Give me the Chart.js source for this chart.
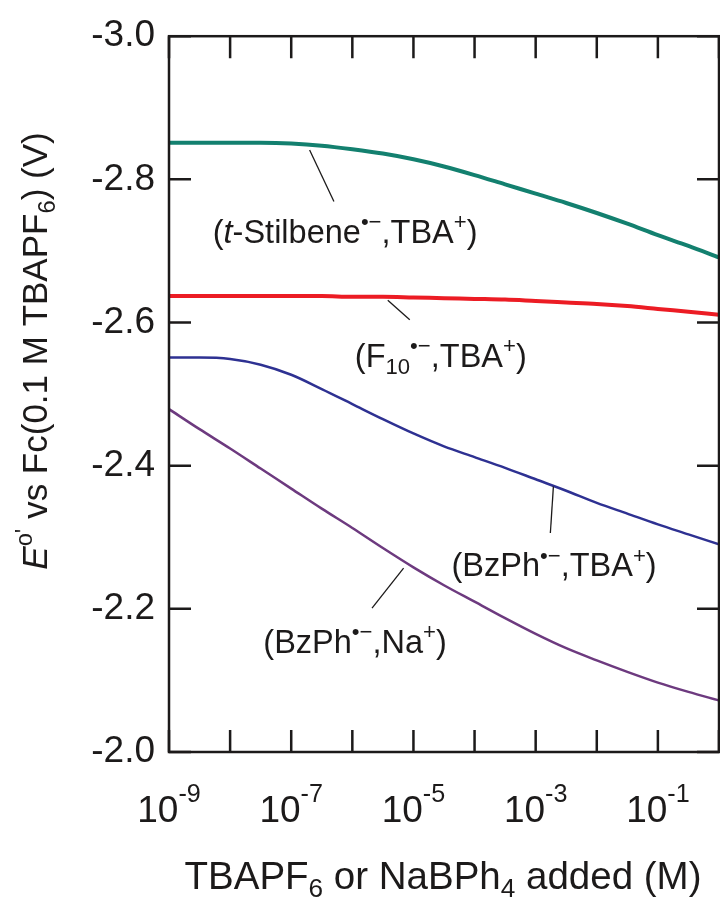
<!DOCTYPE html>
<html>
<head>
<meta charset="utf-8">
<script src="https://cdn.jsdelivr.net/npm/chart.js@4.4.0/dist/chart.umd.min.js"></script>
<style>
  body { margin: 0; background: #fff; }
</style>
</head>
<body>
<canvas id="chart" width="720" height="900"></canvas>
<script>
// added salt concentration (M), half-decade steps
var concentrations = [1e-9, 3.16e-9, 1e-8, 3.16e-8, 1e-7, 3.16e-7, 1e-6, 3.16e-6, 1e-5, 3.16e-5,
                      1e-4, 3.16e-4, 1e-3, 3.16e-3, 1e-2, 3.16e-2, 0.1, 0.316, 1];

// E°' vs Fc (V)
var stilbeneTBA = [-2.851, -2.851, -2.851, -2.851, -2.850, -2.847, -2.842, -2.836, -2.828, -2.818,
                   -2.806, -2.793, -2.780, -2.767, -2.753, -2.738, -2.722, -2.707, -2.691];
var f10TBA      = [-2.637, -2.637, -2.637, -2.637, -2.637, -2.637, -2.636, -2.636, -2.635, -2.634,
                   -2.633, -2.632, -2.630, -2.628, -2.626, -2.623, -2.619, -2.615, -2.611];
var bzphTBA     = [-2.551, -2.551, -2.549, -2.541, -2.527, -2.507, -2.486, -2.465, -2.445, -2.427,
                   -2.412, -2.397, -2.381, -2.365, -2.348, -2.333, -2.318, -2.304, -2.290];
var bzphNa      = [-2.479, -2.451, -2.424, -2.396, -2.368, -2.340, -2.313, -2.285, -2.258, -2.233,
                   -2.210, -2.187, -2.165, -2.145, -2.128, -2.112, -2.097, -2.084, -2.072];

var xTickExponents = [-9, -8, -7, -6, -5, -4, -3, -2, -1, 0];
var xLabelExponents = [-9, -7, -5, -3, -1];
var yTickValues = [-3.0, -2.8, -2.6, -2.4, -2.2, -2.0];

var FONT = "'Liberation Sans', Arial, sans-serif";
var INK = '#1c1a1a';

// label text pieces: [text, style] where style is '', 'i', 'sup' or 'sub'
var annotations = [
  { runs: [['(', ''], ['t', 'i'], ['-Stilbene', ''], ['\u2022\u2212', 'sup'], [',TBA', ''], ['+', 'sup'], [')', '']],
    at: [5.2e-9, -2.728], line: [[2.0e-7, -2.841], [5.0e-7, -2.769]] },
  { runs: [['(F', ''], ['10', 'sub'], ['\u2022\u2212', 'sup'], [',TBA', ''], ['+', 'sup'], [')', '']],
    at: [1.1e-6, -2.555], line: [[3.8e-6, -2.631], [8.7e-6, -2.604]] },
  { runs: [['(BzPh', ''], ['\u2022\u2212', 'sup'], [',TBA', ''], ['+', 'sup'], [')', '']],
    at: [4.2e-5, -2.262], line: [[1.95e-3, -2.371], [1.74e-3, -2.306]] },
  { runs: [['(BzPh', ''], ['\u2022\u2212', 'sup'], [',Na', ''], ['+', 'sup'], [')', '']],
    at: [3.5e-8, -2.155], line: [[6.9e-6, -2.257], [2.1e-6, -2.201]] }
];

function fontFor(style, size) {
  var s = (style === 'sup' || style === 'sub') ? size * 0.68 : size;
  return (style === 'i' ? 'italic ' : '') + s + 'px ' + FONT;
}

function runsWidth(ctx, runs, size) {
  var w = 0;
  runs.forEach(function (r) {
    ctx.font = fontFor(r[1], size);
    w += ctx.measureText(r[0]).width;
  });
  return w;
}

// x,y: left end of baseline
function drawRuns(ctx, runs, x, y, size, rise) {
  rise = rise || 0.42;
  ctx.textAlign = 'left';
  ctx.textBaseline = 'alphabetic';
  runs.forEach(function (r) {
    ctx.font = fontFor(r[1], size);
    var dy = r[1] === 'sup' ? -size * rise : (r[1] === 'sub' ? size * 0.22 : 0);
    ctx.fillText(r[0], x, y + dy);
    x += ctx.measureText(r[0]).width;
  });
}

function points(series) {
  return concentrations.map(function (c, i) { return { x: c, y: series[i] }; });
}

var decorations = {
  id: 'decorations',
  afterDraw: function (chart) {
    var ctx = chart.ctx;
    var a = chart.chartArea;
    var xs = chart.scales.x, ys = chart.scales.y;
    var tick = 22;
    ctx.save();
    ctx.strokeStyle = INK;
    ctx.fillStyle = INK;

    // inward ticks on all four sides
    ctx.lineWidth = 2.5;
    ctx.beginPath();
    xTickExponents.forEach(function (e) {
      var px = xs.getPixelForValue(Math.pow(10, e));
      ctx.moveTo(px, a.bottom); ctx.lineTo(px, a.bottom - tick);
      ctx.moveTo(px, a.top); ctx.lineTo(px, a.top + tick);
    });
    yTickValues.forEach(function (v) {
      var py = ys.getPixelForValue(v);
      ctx.moveTo(a.left, py); ctx.lineTo(a.left + tick, py);
      ctx.moveTo(a.right, py); ctx.lineTo(a.right - tick, py);
    });
    ctx.stroke();
    ctx.strokeRect(a.left, a.top, a.right - a.left, a.bottom - a.top);

    // x tick labels 10^n
    xLabelExponents.forEach(function (e) {
      var px = xs.getPixelForValue(Math.pow(10, e));
      var runs = [['10', ''], [String(e), 'sup']];
      var w = runsWidth(ctx, runs, 37);
      drawRuns(ctx, runs, px - w / 2, 822, 37, 0.55);
    });

    // axis titles
    var xt = [['TBAPF', ''], ['6', 'sub'], [' or NaBPh', ''], ['4', 'sub'], [' added (M)', '']];
    var xw = runsWidth(ctx, xt, 38.5);
    drawRuns(ctx, xt, 443 - xw / 2, 889, 38.5);

    var yt = [['E', 'i'], ["o'", 'sup'], [' vs Fc(0.1 M TBAPF', ''], ['6', 'sub'], [') (V)', '']];
    var yw = runsWidth(ctx, yt, 35);
    ctx.save();
    ctx.translate(47, 351);
    ctx.rotate(-Math.PI / 2);
    drawRuns(ctx, yt, -yw / 2, 0, 35);
    ctx.restore();

    // curve labels with leader lines
    ctx.lineWidth = 1.3;
    annotations.forEach(function (an) {
      ctx.beginPath();
      ctx.moveTo(xs.getPixelForValue(an.line[0][0]), ys.getPixelForValue(an.line[0][1]));
      ctx.lineTo(xs.getPixelForValue(an.line[1][0]), ys.getPixelForValue(an.line[1][1]));
      ctx.stroke();
      drawRuns(ctx, an.runs, xs.getPixelForValue(an.at[0]), ys.getPixelForValue(an.at[1]) + 12, 32.5);
    });
    ctx.restore();
  }
};

var ctx = document.getElementById('chart').getContext('2d');
new Chart(ctx, {
  type: 'line',
  data: {
    datasets: [
      { label: 't-Stilbene', data: points(stilbeneTBA), borderColor: '#13806f', borderWidth: 4 },
      { label: 'F10', data: points(f10TBA), borderColor: '#ec1c24', borderWidth: 4 },
      { label: 'BzPh TBA', data: points(bzphTBA), borderColor: '#2e3192', borderWidth: 2.5 },
      { label: 'BzPh Na', data: points(bzphNa), borderColor: '#6d3a7f', borderWidth: 2.5 }
    ]
  },
  options: {
    responsive: false,
    animation: false,
    devicePixelRatio: 1,
    cubicInterpolationMode: 'monotone',
    elements: { point: { radius: 0 }, line: { fill: false } },
    layout: { padding: { top: 28, right: 1, left: 0, bottom: 0 } },
    plugins: { legend: { display: false }, tooltip: { enabled: false } },
    scales: {
      x: {
        type: 'logarithmic',
        min: 1e-9,
        max: 1,
        grid: { display: false },
        border: { display: false },
        ticks: { display: false },
        afterFit: function (scale) { scale.height = 148; }
      },
      y: {
        type: 'linear',
        min: -3,
        max: -2,
        reverse: true,
        grid: { display: false, drawTicks: false },
        border: { display: false },
        ticks: {
          stepSize: 0.2,
          padding: 14,
          color: INK,
          font: { family: FONT, size: 37 },
          callback: function (v) { return v.toFixed(1); }
        },
        afterFit: function (scale) { scale.width = 169; }
      }
    }
  },
  plugins: [decorations]
});
</script>
</body>
</html>
